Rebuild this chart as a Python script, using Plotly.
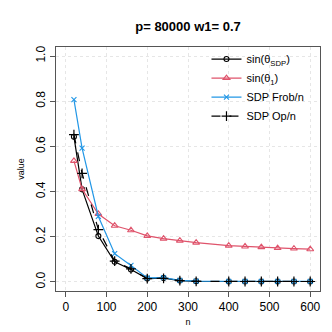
import plotly.graph_objects as go

# sample sizes
n = [20, 40, 80, 120, 160, 200, 240, 280, 320, 400, 440, 480, 520, 560, 600]

# series
sin_sdp = [0.643, 0.41, 0.203, 0.089, 0.055, 0.015, 0.017, 0.006, 0.003, 0.002, 0.002, 0.002, 0.002, 0.002, 0.002]
sin_1 = [0.536, 0.411, 0.301, 0.249, 0.229, 0.204, 0.192, 0.183, 0.174, 0.161, 0.157, 0.154, 0.150, 0.148, 0.145]
sdp_frob = [0.807, 0.592, 0.29, 0.125, 0.073, 0.018, 0.019, 0.007, 0.004, 0.003, 0.003, 0.003, 0.003, 0.003, 0.003]
sdp_op = [0.652, 0.481, 0.232, 0.092, 0.058, 0.015, 0.016, 0.006, 0.003, 0.002, 0.002, 0.002, 0.002, 0.002, 0.002]

BLACK = '#000000'
RED = '#DF536B'
BLUE = '#2297E6'

fig = go.Figure()

fig.add_trace(go.Scatter(
    x=n, y=sin_sdp, mode='lines+markers', name='sin(θ<sub>SDP</sub>)',
    line=dict(color=BLACK, width=1.2),
    marker=dict(symbol='circle-open', size=5, color=BLACK, line=dict(width=1.1))
))
fig.add_trace(go.Scatter(
    x=n, y=sin_1, mode='lines+markers', name='sin(θ<sub>1</sub>)',
    line=dict(color=RED, width=1.2),
    marker=dict(symbol='triangle-up-open', size=6, color=RED, line=dict(width=1.1))
))
fig.add_trace(go.Scatter(
    x=n, y=sdp_frob, mode='lines+markers', name='SDP Frob/n',
    line=dict(color=BLUE, width=1.2),
    marker=dict(symbol='x-thin-open', size=5, color=BLUE, line=dict(width=1.1, color=BLUE))
))
fig.add_trace(go.Scatter(
    x=n, y=sdp_op, mode='lines+markers', name='SDP Op/n',
    line=dict(color=BLACK, width=1.2, dash='dash'),
    marker=dict(symbol='cross-thin-open', size=7, color=BLACK, line=dict(width=1.2, color=BLACK))
))

fig.update_layout(
    width=332, height=332,
    paper_bgcolor='white',
    plot_bgcolor='white',
    font=dict(family='Liberation Sans, Arial, sans-serif', color='black', size=12),
    title=dict(text='<b>p= 80000 w1= 0.7</b>', x=0.5, xref='paper', xanchor='center',
               y=0.958, yref='container', font=dict(size=13)),
    margin=dict(l=39, r=20, t=39, b=49),
    showlegend=True,
    legend=dict(x=0.57, y=1.01, xanchor='left', yanchor='top',
                bgcolor='rgba(0,0,0,0)', font=dict(size=11),
                tracegroupgap=0, itemwidth=30),
    xaxis=dict(
        range=[-24, 624], tickvals=[0, 100, 200, 300, 400, 500, 600],
        showgrid=True, gridcolor='#e6e6e6', griddash='dot', gridwidth=1,
        showline=True, mirror=True, linecolor='#555555', linewidth=1,
        ticks='outside', ticklen=5, tickcolor='#555555', zeroline=False,
        title=dict(text='n', font=dict(size=9), standoff=5)
    ),
    yaxis=dict(
        range=[-0.04, 1.04], tickvals=[0, 0.2, 0.4, 0.6, 0.8, 1.0], tickformat='.1f',
        tickangle=-90,
        showgrid=True, gridcolor='#e6e6e6', griddash='dot', gridwidth=1,
        showline=True, mirror=True, linecolor='#555555', linewidth=1,
        ticks='outside', ticklen=5, tickcolor='#555555', zeroline=False,
        title=dict(text='value', font=dict(size=9), standoff=8)
    ),
)

fig.write_html("out.html")
